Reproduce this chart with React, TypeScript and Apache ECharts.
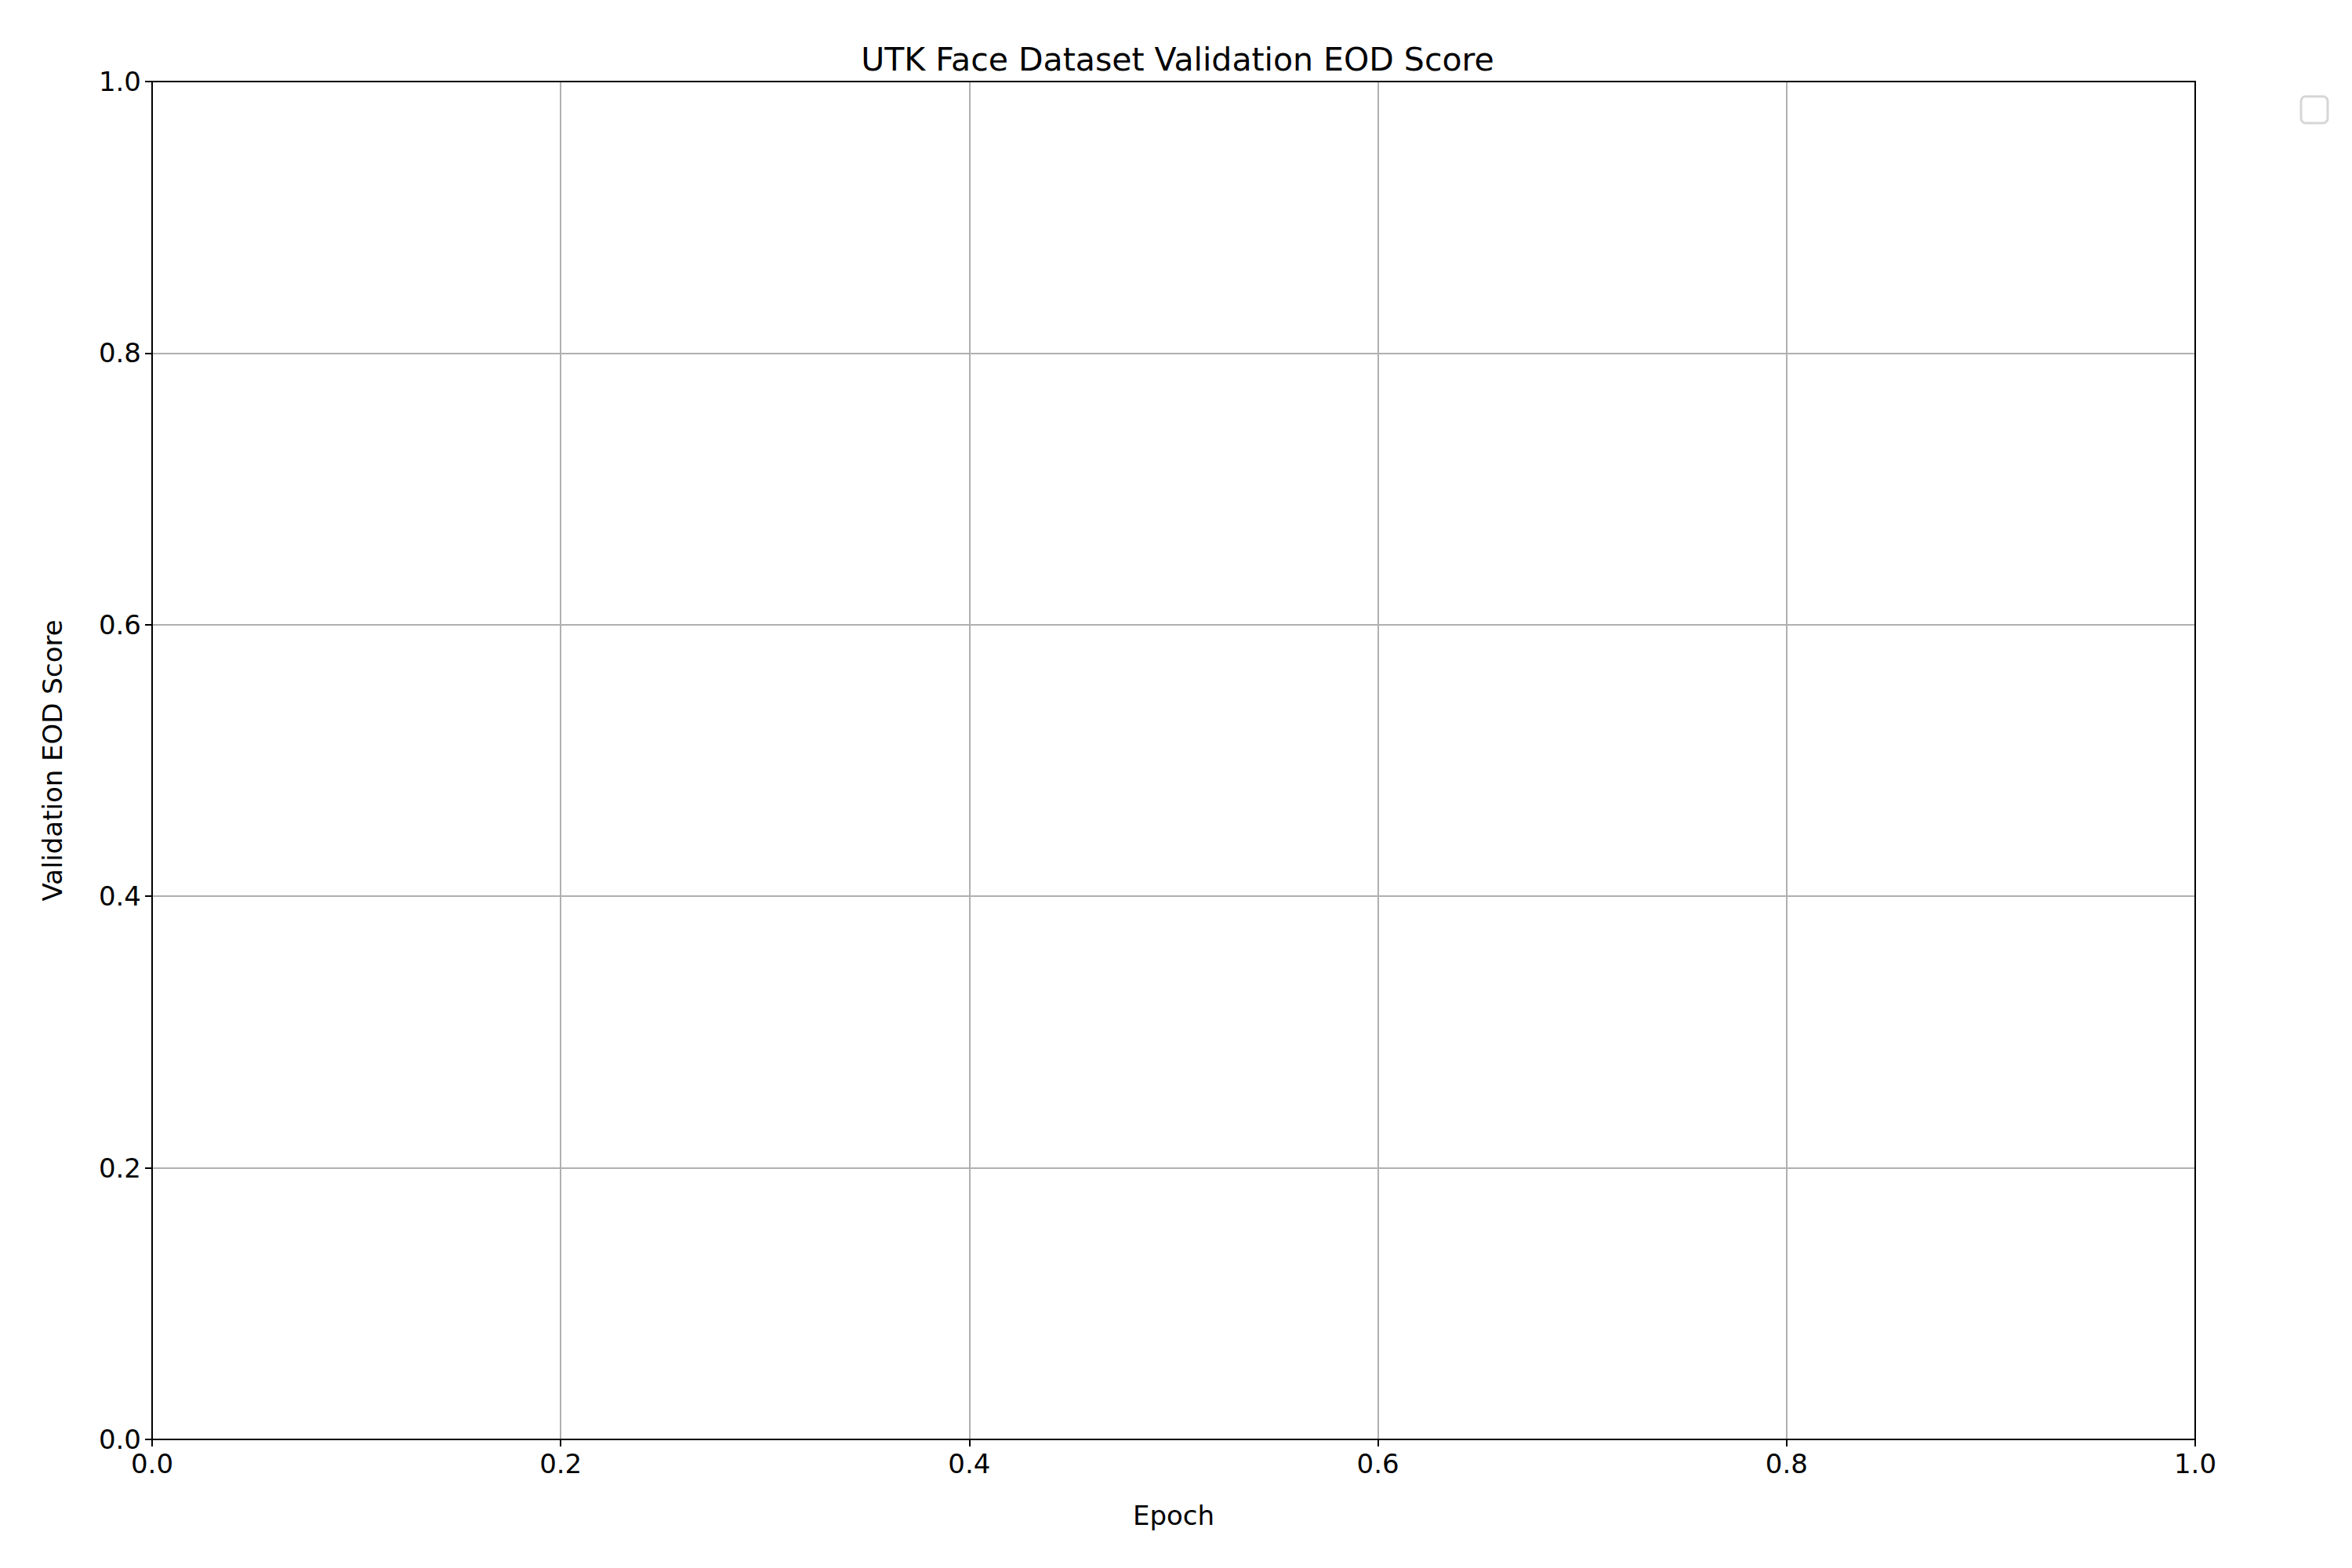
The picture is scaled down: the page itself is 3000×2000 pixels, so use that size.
import { useEffect, useRef } from 'react';
import * as echarts from 'echarts';

const xTicks = [0, 0.2, 0.4, 0.6, 0.8, 1.0];
const yTicks = [0, 0.2, 0.4, 0.6, 0.8, 1.0];

export default function App() {
  const ref = useRef<HTMLDivElement>(null);

  useEffect(() => {
    if (!ref.current) return;
    const chart = echarts.init(ref.current, null, { renderer: 'svg' });
    const font = 'DejaVu Sans';
    const axisCommon = {
      type: 'value' as const,
      min: xTicks[0],
      max: xTicks[xTicks.length - 1],
      interval: 0.2,
      axisLine: { show: true, onZero: false, lineStyle: { color: '#000', width: 2 } },
      axisTick: { show: true, inside: false, length: 9, lineStyle: { color: '#000', width: 2 } },
      axisLabel: { color: '#000', fontSize: 34, fontFamily: font, margin: 14, formatter: (v: number) => v.toFixed(1) },
      splitLine: { show: true, lineStyle: { color: '#b0b0b0', width: 2 } },
      nameTextStyle: { color: '#000', fontSize: 34, fontFamily: font },
    };
    const frame = {
      type: 'value' as const,
      min: 0,
      max: 1,
      axisLine: { show: true, onZero: false, lineStyle: { color: '#000', width: 2 } },
      axisTick: { show: false },
      axisLabel: { show: false },
      splitLine: { show: false },
    };
    chart.setOption({
      animation: false,
      backgroundColor: '#fff',
      title: {
        text: 'UTK Face Dataset Validation EOD Score',
        left: 1489,
        textAlign: 'center',
        top: 42,
        textStyle: { color: '#000', fontSize: 41, fontWeight: 'normal', fontFamily: font },
      },
      grid: { left: 186, right: 208, top: 96, bottom: 172 },
      xAxis: [
        { ...axisCommon, name: 'Epoch', nameLocation: 'middle', nameGap: 80 },
        { ...frame, position: 'top' },
      ],
      yAxis: [
        {
          ...axisCommon,
          min: yTicks[0],
          max: yTicks[yTicks.length - 1],
          name: 'Validation EOD Score',
          nameLocation: 'middle',
          nameGap: 110,
        },
        { ...frame, position: 'right' },
      ],
      graphic: [
        {
          type: 'rect',
          shape: { x: 2927, y: 115, width: 34, height: 34, r: 6 },
          style: { fill: '#fff', stroke: '#d6d6d6', lineWidth: 3 },
        },
      ],
      series: [],
    });
    return () => chart.dispose();
  }, []);

  return <div ref={ref} style={{ width: 3000, height: 2000 }} />;
}
